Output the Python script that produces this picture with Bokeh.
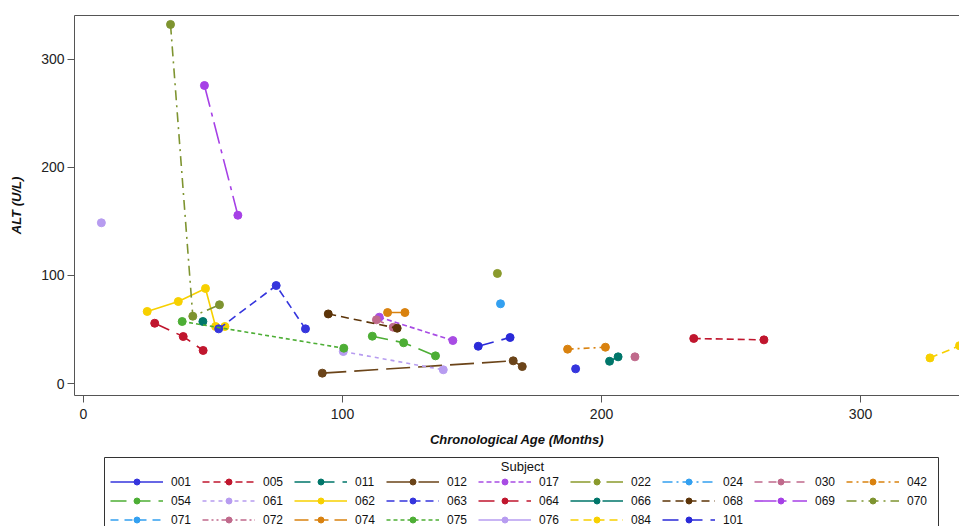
from bokeh.plotting import figure
from bokeh.layouts import column
from bokeh.models import (Range1d, LinearAxis, FixedTicker, Legend, LegendItem,
                          ColumnDataSource, BoxAnnotation, Label)
from bokeh.embed import file_html
from bokeh.resources import INLINE

NAN = float("nan")

# ---------------- data ----------------
subjects = ["001", "005", "011", "012", "017", "022", "024", "030", "042",
            "054", "061", "062", "063", "064", "066", "068", "069", "070",
            "071", "072", "074", "075", "076", "084", "101"]

ages = [
    [190.0],                         # 001
    [235.6, 262.7],                  # 005
    [46.1],                          # 011
    [92.2, 165.9, 169.4],            # 012
    [114.2, 142.6],                  # 017
    [159.8],                         # 022
    [161.0],                         # 024
    [113.1, 119.6],                  # 030
    [186.9, 201.5],                  # 042
    [111.5, 123.6, 135.9],           # 054
    [100.3, 138.9],                  # 061
    [24.6, 36.6, 47.1, 51.0, 54.6],  # 062
    [52.2, 74.4, 85.7],              # 063
    [27.5, 38.5, 46.2],              # 064
    [203.1, 206.4],                  # 066
    [94.5, 121.1],                   # 068
    [46.7, 59.6],                    # 069
    [33.6, 42.2, 52.5],              # 070
    [NAN],                           # 071 (no visible values)
    [212.9],                         # 072
    [117.4, 124.1],                  # 074
    [38.1, 100.5],                   # 075
    [6.9],                           # 076
    [326.8, 338.2],                  # 084
    [152.4, 164.7],                  # 101
]

alts = [
    [13.6],                          # 001
    [41.7, 40.4],                    # 005
    [57.4],                          # 011
    [9.6, 21.0, 15.7],               # 012
    [61.4, 39.8],                    # 017
    [101.9],                         # 022
    [73.8],                          # 024
    [59.0, 52.1],                    # 030
    [31.8, 33.6],                    # 042
    [43.8, 37.7, 25.6],              # 054
    [29.6, 12.7],                    # 061
    [66.7, 75.9, 88.0, 52.8, 52.8],  # 062
    [50.6, 90.7, 50.6],              # 063
    [55.8, 43.5, 30.6],              # 064
    [20.6, 24.7],                    # 066
    [64.4, 51.2],                    # 068
    [275.9, 155.8],                  # 069
    [332.4, 62.3, 72.9],             # 070
    [NAN],                           # 071
    [24.7],                          # 072
    [65.7, 65.7],                    # 074
    [57.4, 32.7],                    # 075
    [148.8],                         # 076
    [23.7, 35.0],                    # 084
    [34.5, 42.6],                    # 101
]

x_ticks = [0, 100, 200, 300]
y_ticks = [0, 100, 200, 300]

# ---------------- styles ----------------
colors = ["#3535DD", "#C0162E", "#00766A", "#6B4419", "#A84CE4", "#8A9A2C",
          "#33A0F0", "#C06A8C", "#D9820F",
          "#4DAE35", "#B79CF0", "#F7D000", "#3535DD", "#C0162E", "#00766A",
          "#5C3408", "#A640E6", "#7E9430",
          "#33A0F0", "#C06A8C", "#D9820F", "#4DAE35", "#B79CF0", "#F7D000",
          "#2A2AD8"]
dashes = ["solid", "7 4", "16 8", "24 8", "5 3", "20 6 4 6", "10 4 2 4",
          "8 6", "6 4 2 4",
          "16 8", "4 4", "solid", "8 5", "16 8", "24 8", "8 5", "22 6 4 6",
          "10 5 2 5",
          "8 6", "6 3 2 3 2 3", "14 6", "4 3", "solid", "8 5", "16 8"]

FONT = "Liberation Sans"
H1 = 455
H2 = 526 - H1
FRAME_LEFT = 74   # the legend strip's frame is aligned with the plot frame

# ---------------- main plot ----------------
p = figure(width=959, height=H1,
           x_range=Range1d(-3.47, 338.2), y_range=Range1d(-11.1, 340.7),
           output_backend="svg", toolbar_location=None,
           min_border_left=FRAME_LEFT, min_border_right=0,
           min_border_top=15, min_border_bottom=60)
p.outline_line_color = None
p.xgrid.visible = False
p.ygrid.visible = False

# ---------------- legend strip ----------------
lg = figure(width=959, height=H2, x_range=Range1d(0, 1), y_range=Range1d(0, 1),
            output_backend="svg", toolbar_location=None,
            x_axis_location=None, y_axis_location=None,
            min_border=0, min_border_left=0, min_border_right=0,
            min_border_top=0, min_border_bottom=0)
lg.outline_line_color = None
lg.xgrid.visible = False
lg.ygrid.visible = False

items = []
for s, xs, ys, c, d in zip(subjects, ages, alts, colors, dashes):
    src = ColumnDataSource(data=dict(x=xs, y=ys))
    p.line("x", "y", source=src, line_color=c, line_width=1.6, line_dash=d)
    p.scatter("x", "y", source=src, size=8, marker="circle",
              fill_color=c, line_color=c)
    lr = lg.line("x", "y", source=src, line_color=c, line_width=1.6,
                 line_dash=d, visible=False)
    sr = lg.scatter("x", "y", source=src, size=8, marker="circle",
                    fill_color=c, line_color=c, visible=False)
    items.append(LegendItem(label=s, renderers=[lr, sr]))

for ax in (p.xaxis[0], p.yaxis[0]):
    ax.axis_line_color = "#555555"
    ax.major_tick_line_color = "#555555"
    ax.major_tick_out = 7
    ax.major_tick_in = 0
    ax.minor_tick_out = 0
    ax.minor_tick_in = 0
    ax.major_label_text_font = FONT
    ax.major_label_text_font_size = "14px"
    ax.major_label_text_color = "#222222"
    ax.axis_label_text_font = FONT
    ax.axis_label_text_font_style = "bold italic"
    ax.axis_label_text_font_size = "13px"
    ax.axis_label_text_color = "#111111"

p.xaxis[0].ticker = FixedTicker(ticks=x_ticks)
p.yaxis[0].ticker = FixedTicker(ticks=y_ticks)
p.xaxis[0].axis_label = "Chronological Age (Months)"
p.yaxis[0].axis_label = "ALT (U/L)"
p.xaxis[0].major_label_standoff = 6
p.yaxis[0].major_label_standoff = 3
p.xaxis[0].axis_label_standoff = 10
p.yaxis[0].axis_label_standoff = 14

top = LinearAxis(ticker=FixedTicker(ticks=[]), major_tick_out=0,
                 major_tick_in=0, minor_tick_out=0, minor_tick_in=0,
                 major_label_text_font_size="0px",
                 axis_line_color="#555555")
p.add_layout(top, "above")

# legend frame box (bottom runs past the window edge, as in the reference)
lg.add_layout(BoxAnnotation(left=104 - FRAME_LEFT, right=938 - FRAME_LEFT,
                            top=H2 - 2, bottom=-20,
                            left_units="screen", right_units="screen",
                            top_units="screen", bottom_units="screen",
                            fill_alpha=0.0, line_color="#333333",
                            line_width=1, line_alpha=1.0))

legend = Legend(items=items, location=(110 - FRAME_LEFT, -1),
                orientation="horizontal",
                ncols=9, glyph_width=53, glyph_height=15, label_width=27,
                label_height=15, label_standoff=8, spacing=4, padding=0,
                margin=0, border_line_color=None,
                background_fill_alpha=0.0,
                label_text_font=FONT, label_text_font_size="12px",
                label_text_color="#111111")
lg.add_layout(legend)

lg.add_layout(Label(x=522 - FRAME_LEFT, y=H2 - 11, x_units="screen",
                    y_units="screen", text="Subject", text_align="center",
                    text_baseline="middle", text_font=FONT,
                    text_font_size="13px", text_color="#111111"))

layout = column(p, lg, spacing=0)
open("out.html", "w").write(file_html(layout, INLINE))
